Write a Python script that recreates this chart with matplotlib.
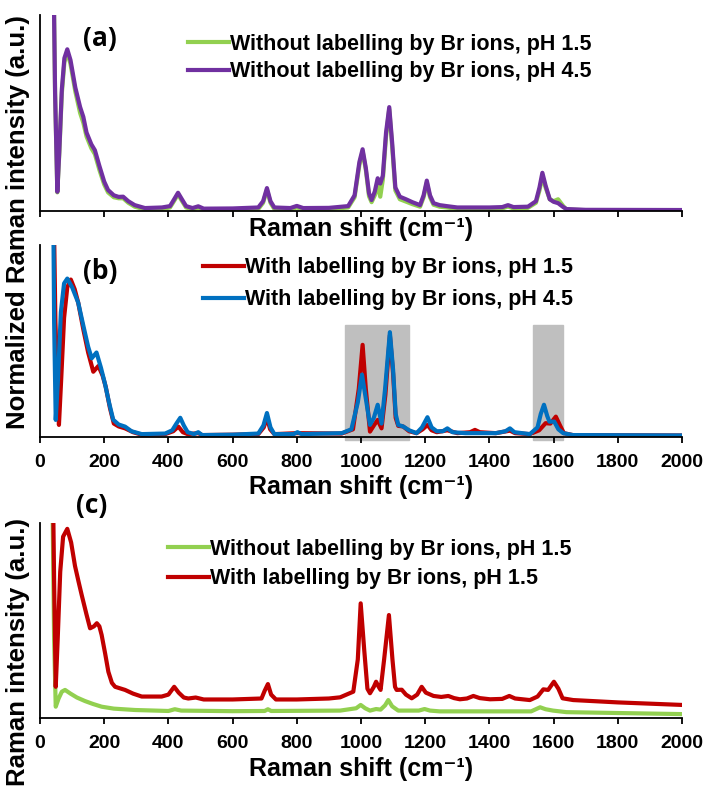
import matplotlib
matplotlib.use("Agg")
import matplotlib.pyplot as plt
from matplotlib.patches import Rectangle

plt.rcParams['font.family'] = ['Liberation Sans', 'DejaVu Sans']
plt.rcParams['font.weight'] = 'bold'

# ---- data (Raman shift in cm-1, intensity in % of axis height) ----
# panel (a): without labelling
a_x = [40, 47, 54, 60, 68, 76, 85, 95, 110, 125, 135, 145, 160, 171, 185, 200, 212, 230, 245, 259, 275,
       295, 327, 380, 405, 418, 430, 442, 455, 475, 493, 510, 600, 680, 695, 707, 718, 730, 780, 800,
       820, 900, 960, 980, 995, 1005, 1015, 1025, 1033, 1043, 1052, 1060, 1068, 1078, 1088, 1097, 1107,
       1121, 1140, 1160, 1184, 1195, 1205, 1215, 1226, 1245, 1267, 1300, 1400, 1440, 1458, 1475, 1520,
       1545, 1556, 1565, 1575, 1588, 1600, 1614, 1630, 1640, 1700, 2000]
a_ph45 = [150, 60, 9.8, 30, 62, 78, 82.5, 77, 63, 53, 48, 40, 34, 31, 23, 15, 10.7, 8, 7.2, 7.3, 5,
          3, 1.5, 1.8, 2.5, 6, 9.3, 6, 2.5, 1.5, 2.4, 1.2, 1.3, 1.8, 5, 11.7, 5, 1.8, 1.5, 2.6,
          1.5, 1.6, 2.5, 8, 25, 31.5, 22, 9, 5.6, 10, 16.7, 14, 18, 40, 53, 35, 12,
          7.3, 6, 4.5, 3, 8, 15.5, 8, 4, 3, 2.5, 1.8, 1.8, 2, 3, 2, 2.2,
          5, 12, 19.5, 13, 6, 4.7, 4, 2, 1, 0.6, 0.5]
a_ph15 = [150, 60, 9.5, 29, 60, 76, 81, 75, 61, 50, 45, 38, 32, 29, 21, 13.5, 9.5, 7, 6.5, 6.5, 4.2,
          2.2, 0.8, 1.0, 1.8, 5.2, 8.5, 5.2, 1.8, 0.8, 1.7, 0.6, 0.6, 1.0, 4.2, 10.8, 4.2, 1.0, 0.8, 1.8,
          0.8, 0.9, 1.8, 7, 23.5, 30.5, 21, 7.5, 4.5, 8, 13, 7.3, 16, 38, 52, 33, 10.5,
          6, 4.8, 3.5, 2.2, 7, 14.5, 7, 3.2, 2.2, 1.8, 1.1, 1.1, 1.3, 2.3, 1.3, 1.6,
          4.2, 10.5, 17.5, 12, 6, 5, 6, 2.5, 0.8, 0.4, 0.3]

# panel (b): with labelling, normalized
b_blue_x = [40, 44, 49, 56, 65, 75, 85, 100, 119, 135, 150, 161, 176, 190, 202, 215, 228, 245, 265, 285,
            317, 390, 412, 425, 437, 448, 460, 480, 493, 505, 600, 680, 696, 707, 718, 730, 790, 802, 815,
            940, 970, 990, 1003, 1015, 1028, 1040, 1052, 1064, 1075, 1090, 1100, 1108, 1116, 1131, 1150,
            1173, 1190, 1207, 1220, 1236, 1255, 1269, 1285, 1325, 1420, 1450, 1464, 1478, 1526, 1550,
            1560, 1570, 1580, 1587, 1602, 1615, 1630, 1660, 2000]
b_ph45 = [150, 60, 8.9, 30, 65, 80, 82.5, 78, 70, 58, 47, 41, 44, 36, 28, 18, 9, 6.5, 5.4, 3,
          1.5, 1.8, 3.5, 7, 10, 6, 2.5, 1.5, 2.5, 1, 1.2, 1.8, 6, 12.5, 5, 1.5, 1.5, 2.5, 1.5,
          2, 4, 18, 32.5, 20, 6.3, 10, 16.8, 7, 25, 54.6, 35, 12, 6.3, 5.5, 3.5,
          2, 5, 10.3, 5, 3, 3, 4.5, 2.5, 2, 2, 3, 4.5, 2.5, 1.5, 5,
          12, 16.8, 11, 8, 8, 4, 2, 1, 0.8]
b_red_x = [40, 48, 59, 66, 75, 85, 96, 108, 119, 135, 150, 166, 182, 195, 205, 218, 230, 245, 265, 290,
           317, 390, 415, 431, 445, 460, 493, 505, 600, 680, 697, 707, 717, 730, 800, 940, 975, 993, 1005,
           1015, 1028, 1040, 1052, 1064, 1076, 1090, 1100, 1108, 1116, 1131, 1150, 1173, 1192, 1207, 1220,
           1236, 1269, 1300, 1340, 1355, 1370, 1420, 1464, 1480, 1526, 1555, 1575, 1590, 1607, 1620, 1632,
           1660, 2000]
b_ph15 = [150, 60, 6.3, 30, 62, 78, 82, 77, 70, 56, 44, 34, 37, 32, 26, 15, 7, 5.5, 4.5, 2.5,
          1.2, 1.5, 3, 5.4, 2.5, 1.5, 2, 1, 1.2, 1.5, 5, 10, 4, 1.5, 2, 1.8, 4, 25, 48,
          25, 2.8, 6, 8.9, 4.5, 22, 53, 33, 10, 5.8, 5.5, 3, 2, 4, 6.3, 3.5,
          2.5, 3.5, 2, 2.5, 3.7, 2.5, 2, 3.3, 2, 1.5, 3.5, 7.2, 7, 10.6, 6, 2,
          1, 0.8]

# panel (c): pH 1.5, with vs without labelling
c_red_x = [38, 44, 49, 55, 63, 72, 85, 97, 109, 120, 130, 145, 156, 168, 177, 185, 192, 203, 213, 224,
           234, 265, 290, 317, 379, 400, 418, 432, 448, 462, 485, 510, 600, 690, 700, 710, 720, 735, 800,
           900, 935, 976, 990, 999, 1010, 1020, 1028, 1040, 1047, 1055, 1061, 1072, 1087, 1098, 1106, 1111,
           1127, 1140, 1158, 1175, 1189, 1202, 1226, 1250, 1272, 1290, 1308, 1330, 1350, 1370, 1402, 1440,
           1462, 1480, 1526, 1550, 1568, 1583, 1601, 1615, 1628, 1661, 1800, 2000]
c_with = [150, 70, 16, 40, 75, 93, 97, 90, 78, 70, 63, 53, 46, 47, 48.6, 47, 42.6, 33, 23.7, 18,
          16, 14.4, 12.5, 11, 11, 12, 16, 13, 10.5, 10, 10.5, 9.5, 9.5, 10, 14, 17.4, 12, 9.5, 9.5,
          10, 10.6, 13.5, 30, 58.8, 35, 15, 12.7, 16, 18.6, 16, 14.4, 30, 52.8, 30, 16, 14.4,
          14.5, 12, 10.1, 12, 16, 13, 11.3, 10.8, 11.3, 10.2, 9.6, 10, 11.3, 10.2, 9.6, 9.8,
          11.3, 10, 9.2, 11, 14.7, 14.4, 18.6, 15, 10.1, 9.2, 8, 6.7]
c_green_x = [36, 44, 49, 58, 68, 78, 95, 115, 140, 165, 192, 230, 296, 400, 420, 440, 600, 700, 710, 720,
             935, 985, 999, 1013, 1028, 1047, 1061, 1075, 1085, 1097, 1116, 1180, 1198, 1215, 1245, 1530,
             1558, 1575, 1598, 1640, 2000]
c_without = [150, 40, 5.8, 10, 13.5, 14.4, 12.5, 10.5, 8.7, 7.2, 5.8, 4.8, 4.1, 3.6, 4.5, 3.8, 3.5, 3.6, 4.5, 3.6,
             3.8, 5, 6.7, 5, 3.8, 4.6, 4.3, 6.5, 9.2, 6, 3.8, 3.8, 4.6, 3.8, 3.4, 3.4,
             5.5, 4.5, 3.8, 3, 2]

# highlighted regions in (b)
boxes = [(950, 1150), (1537, 1628)]

xticks = list(range(0, 2001, 200))
XLABEL = 'Raman shift (cm\u207b\u00b9)'

GREEN = '#92D050'
PURPLE = '#7030A0'
RED = '#C00000'
BLUE = '#0070C0'
LW = 3.0

fig = plt.figure(figsize=(7.05, 7.86), dpi=100)
W, H = 705, 786


def make_ax(top, bottom):
    ax = fig.add_axes([40 / W, (H - bottom) / H, 642 / W, (bottom - top) / H])
    ax.set_xlim(0, 2000)
    ax.set_ylim(0, 100)
    ax.set_xticks(xticks)
    ax.set_yticks([])
    for s in ['top', 'right']:
        ax.spines[s].set_visible(False)
    for s in ['left', 'bottom']:
        ax.spines[s].set_linewidth(1.3)
    ax.tick_params(axis='x', direction='out', length=4, width=1.3, labelsize=14, pad=8)
    return ax


leg_kw = dict(loc='upper left', frameon=False, handlelength=1.9, handletextpad=0.05,
              borderaxespad=0, borderpad=0, prop={'size': 15.5, 'weight': 'bold'})
lab_kw = dict(fontsize=19, fontweight='bold', family=['Open Sans', 'DejaVu Sans'],
              ha='center', va='center')

# (a)
ax1 = make_ax(15, 211)
ax1.plot(a_x, a_ph15, color=GREEN, lw=LW, label='Without labelling by Br ions, pH 1.5')
ax1.plot(a_x, a_ph45, color=PURPLE, lw=LW, label='Without labelling by Br ions, pH 4.5')
ax1.set_xticklabels([])
ax1.set_xlabel(XLABEL, fontsize=18, fontweight='bold')
ax1.xaxis.set_label_coords(0.5, -0.03)
ax1.legend(bbox_to_anchor=(0.23, 0.905), labelspacing=0.3, **leg_kw)
ax1.text(0.093, 0.88, '(a)', transform=ax1.transAxes, **lab_kw)

# (b)
ax2 = make_ax(245, 437)
for x0, x1 in boxes:
    ax2.add_patch(Rectangle((x0, -1.5), x1 - x0, 60, color='#BFBFBF', zorder=0, clip_on=False))
ax2.plot(b_red_x, b_ph15, color=RED, lw=LW, label='With labelling by Br ions, pH 1.5')
ax2.plot(b_blue_x, b_ph45, color=BLUE, lw=LW, label='With labelling by Br ions, pH 4.5')
ax2.set_xlabel(XLABEL, fontsize=18, fontweight='bold')
ax2.xaxis.set_label_coords(0.5, -0.2)
ax2.legend(bbox_to_anchor=(0.254, 0.935), labelspacing=0.5, **leg_kw)
ax2.text(0.093, 0.86, '(b)', transform=ax2.transAxes, **lab_kw)

# (c)
ax3 = make_ax(523, 718)
ax3.plot(c_green_x, c_without, color=GREEN, lw=LW, label='Without labelling by Br ions, pH 1.5')
ax3.plot(c_red_x, c_with, color=RED, lw=LW, label='With labelling by Br ions, pH 1.5')
ax3.set_xlabel(XLABEL, fontsize=18, fontweight='bold')
ax3.xaxis.set_label_coords(0.5, -0.2)
ax3.legend(bbox_to_anchor=(0.2, 0.92), labelspacing=0.4, **leg_kw)
ax3.text(0.081, 1.09, '(c)', transform=ax3.transAxes, clip_on=False, **lab_kw)

fig.text(18 / W, (H - 222) / H, 'Normalized Raman intensity (a.u.)', rotation=90,
         ha='center', va='center', fontsize=18.5, fontweight='bold')
fig.text(18 / W, (H - 652) / H, 'Raman intensity (a.u.)', rotation=90,
         ha='center', va='center', fontsize=18.5, fontweight='bold')

fig.savefig('out.png', dpi=100)
